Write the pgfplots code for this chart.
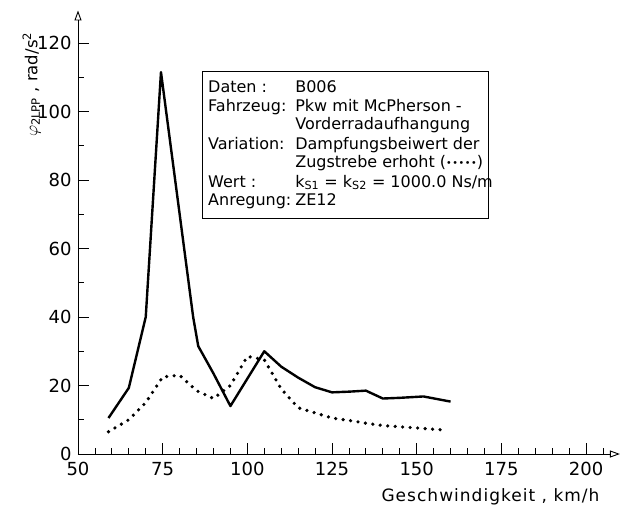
\documentclass[border=0pt]{standalone}
\usepackage{pgfplots}
\pgfplotsset{compat=1.18}
\usepackage{graphicx}
\usepackage{fontspec}
\setmainfont{DejaVu Sans}
\usetikzlibrary{arrows.meta}
\begin{document}
\begin{tikzpicture}
\useasboundingbox (-78pt,-53pt) rectangle (546pt,454pt);
\begin{axis}[
  at={(0pt,0pt)}, anchor=south west,
  x=3.387pt, y=3.425pt,
  xmin=50, xmax=210, ymin=0, ymax=129.5,
  axis lines=left,
  axis line style={line width=0.9pt, -{Triangle[open,length=10pt,width=7pt]}},
  xtick={50,75,...,200}, ytick={0,20,...,120},
  minor xtick={55,60,...,205}, minor ytick={10,30,...,110},
  tick align=inside,
  major tick length=11pt, minor tick length=6pt,
  tick style={line width=0.8pt, black},
  every tick label/.append style={font=\fontsize{18}{20}\selectfont},
  xticklabel style={yshift=-5pt},
  yticklabel style={xshift=-3pt},
  /pgf/number format/assume math mode=true,
  clip=false,
]
\addplot[black, line width=2.4pt, line join=round] coordinates {
(59,10.5) (65,19.3) (70,40) (74.5,111.5) (84,40) (85.5,31.5) (90,23.5) (95,14) (100,22) (105,30) (110,25.5) (115,22.3) (120,19.5) (125,18) (130,18.2) (135,18.5) (140,16.2) (145,16.4) (152,16.8) (160,15.3)
};
\addplot[black, line width=3.6pt, line cap=round, dash pattern=on 0pt off 7.5pt] coordinates {
(59,6.5) (65,10) (70,15) (75,22.5) (80,23) (85,18.5) (90,16.2) (95,20) (100,28.5) (105,27.5) (110,19) (115,13.5) (120,12) (125,10.5) (130,9.8) (135,9) (140,8.3) (150,7.6) (158,7)
};
\end{axis}
\node[draw, line width=0.8pt, anchor=north west, inner sep=0pt, minimum width=286pt, minimum height=147pt] at (124pt,383pt) {};
\node[anchor=north west, inner sep=0pt, font=\fontsize{16}{18}\selectfont, align=left] at (130pt,374pt) {%
\begin{tabular}{@{}l@{\hspace{4pt}}l@{}}
Daten : & B006\\[0.5pt]
Fahrzeug: & Pkw mit McPherson -\\
 & Vorderradaufhangung\\[2pt]
Variation: & Dampfungsbeiwert der\\
 & Zugstrebe erhoht (\raisebox{1pt}{\scalebox{0.6}{\textbullet\kern1pt\textbullet\kern1pt\textbullet\kern1pt\textbullet\kern1pt\textbullet}})\\[2pt]
Wert : & k\textsubscript{S1} = k\textsubscript{S2} = 1000.0 Ns/m\\[0.5pt]
Anregung: & ZE12
\end{tabular}};
\node[anchor=base east, font=\fontsize{17}{19}\selectfont\addfontfeatures{LetterSpace=6}] at (525pt,-47pt) {Geschwindigkeit , km/h};
\node[anchor=north east, rotate=90, font=\fontsize{16.5}{18}\selectfont] at (-59pt,425pt) {$\varphi$\textsubscript{2LPP} , rad/s\textsuperscript{2}};
\end{tikzpicture}
\end{document}
